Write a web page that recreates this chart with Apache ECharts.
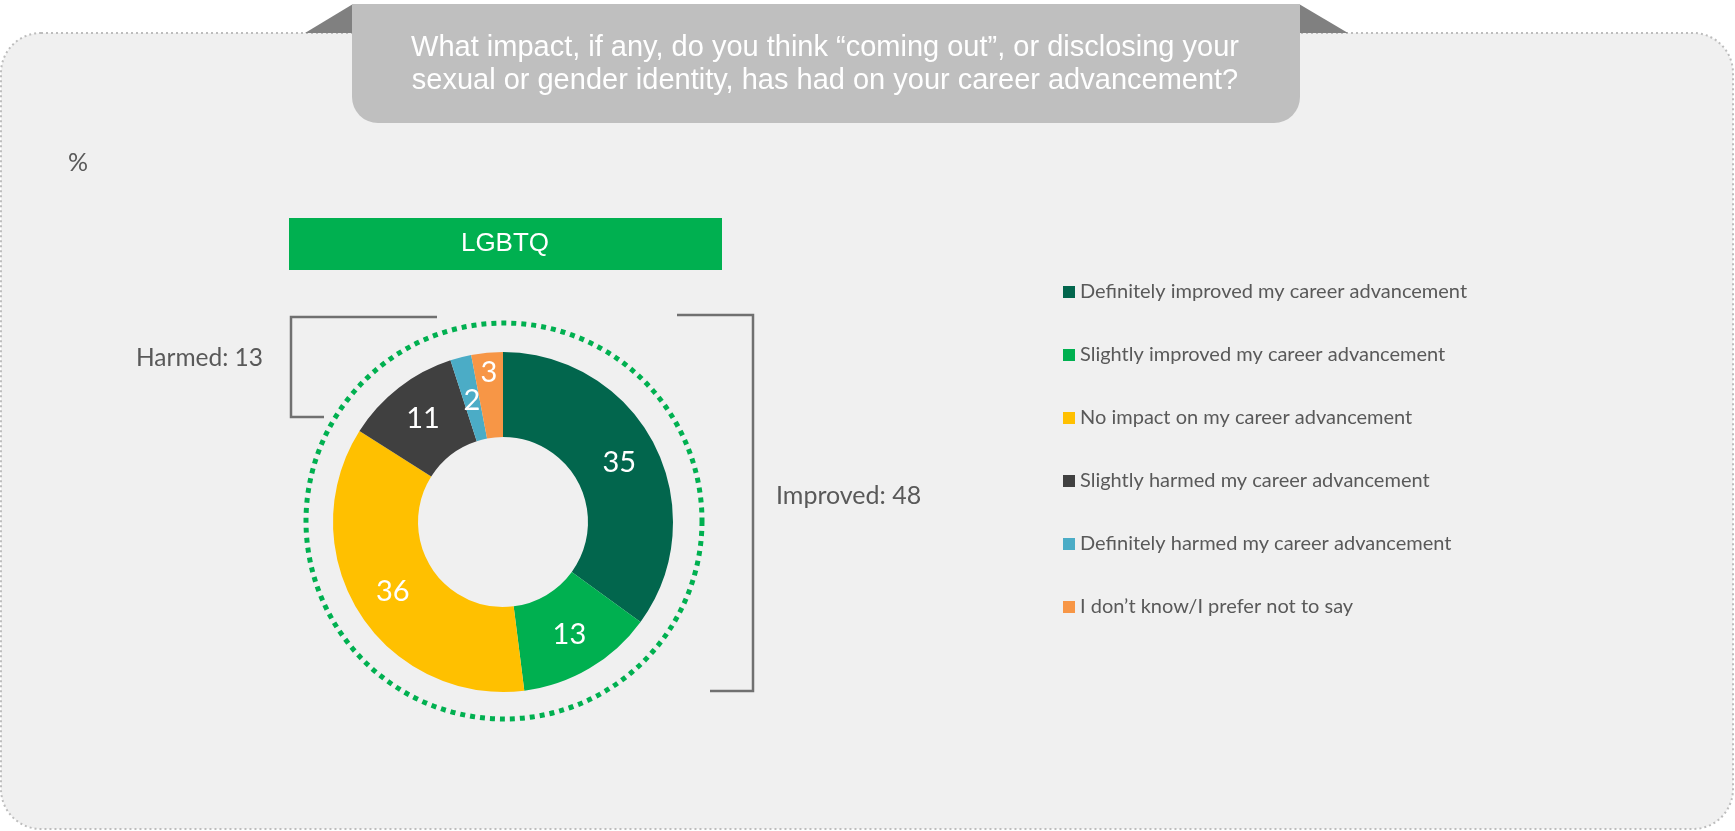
<!DOCTYPE html>
<html>
<head>
<meta charset="utf-8">
<title>Career impact of coming out</title>
<script src="https://cdn.jsdelivr.net/npm/echarts@6/dist/echarts.min.js"></script>
<style>
  html, body { margin: 0; padding: 0; background: #ffffff; }
  #chart { width: 1735px; height: 831px; }
</style>
</head>
<body>
<div id="chart"></div>
<script>
// Survey answers, in the order they run clockwise from 12 o'clock
const categories = [
  'Definitely improved my career advancement',
  'Slightly improved my career advancement',
  'No impact on my career advancement',
  'Slightly harmed my career advancement',
  'Definitely harmed my career advancement',
  'I don\u2019t know/I prefer not to say'
];
const values = [35, 13, 36, 11, 2, 3];
const sliceColors = ['#02664d', '#00b050', '#ffc000', '#404040', '#4bacc6', '#f79646'];

const questionLines = [
  'What impact, if any, do you think \u201ccoming out\u201d, or disclosing your',
  'sexual or gender identity, has had on your career advancement?'
];
const groupTitle = 'LGBTQ';
const unitLabel = '%';
const improvedIdx = [0, 1];
const harmedIdx = [3, 4];

const sumOf = idx => idx.reduce((s, i) => s + values[i], 0);

const CX = 503, CY = 522, R_IN = 85, R_OUT = 170;
// radial nudge (px) of each value label so the two thin slices do not collide
const labelNudge = [0, 0, 0, 0, -5, 20];
const GREY_TEXT = '#595959';
const BODY_FONT = 'Lato, "Open Sans", sans-serif';
const HEAD_FONT = '"Liberation Sans", Arial, sans-serif';

const total = values.reduce((a, b) => a + b, 0);
const midAngle = i => {
  const before = values.slice(0, i).reduce((a, b) => a + b, 0);
  return 2 * Math.PI * (before + values[i] / 2) / total;
};

const chart = echarts.init(document.getElementById('chart'), null, { renderer: 'canvas' });

const graphics = [
  // background panel with dotted outline
  { type: 'rect', z: 0, shape: { x: 1, y: 33, width: 1732, height: 796, r: 40 },
    style: { fill: '#f0f0f0', stroke: '#bdbdbd', lineWidth: 2, lineDash: [2, 3] } },
  // ribbon folds
  { type: 'polygon', z: 1, shape: { points: [[305, 33], [353, 4], [353, 33]] }, style: { fill: '#808080' } },
  { type: 'polygon', z: 1, shape: { points: [[1299, 4], [1348, 33], [1299, 33]] }, style: { fill: '#808080' } },
  // question banner
  { type: 'rect', z: 2, shape: { x: 352, y: 4, width: 948, height: 119, r: [0, 0, 26, 26] },
    style: { fill: '#bfbfbf' } },
  { type: 'text', z: 3, x: 825, y: 48,
    style: { text: questionLines[0], fill: '#ffffff', font: '29px ' + HEAD_FONT, align: 'center', verticalAlign: 'middle' } },
  { type: 'text', z: 3, x: 825, y: 81,
    style: { text: questionLines[1], fill: '#ffffff', font: '29px ' + HEAD_FONT, align: 'center', verticalAlign: 'middle' } },
  // unit
  { type: 'text', z: 3, x: 68, y: 163,
    style: { text: unitLabel, fill: GREY_TEXT, font: '25px ' + BODY_FONT, align: 'left', verticalAlign: 'middle' } },
  // group header
  { type: 'rect', z: 2, shape: { x: 289, y: 218, width: 433, height: 52 }, style: { fill: '#00b050' } },
  { type: 'text', z: 3, x: 505, y: 244,
    style: { text: groupTitle, fill: '#ffffff', font: '26px ' + HEAD_FONT, align: 'center', verticalAlign: 'middle' } },
  // dotted ring around the donut
  { type: 'circle', z: 2, shape: { cx: CX + 1, cy: CY - 1, r: 198 },
    style: { fill: 'none', stroke: '#00b050', lineWidth: 5, lineDash: [5, 5] } },
  // harmed bracket
  { type: 'polyline', z: 2, shape: { points: [[437, 317], [291, 317], [291, 417], [324, 417]] },
    style: { stroke: '#707070', lineWidth: 2.5, fill: null } },
  { type: 'text', z: 3, x: 263, y: 358,
    style: { text: 'Harmed: ' + sumOf(harmedIdx), fill: GREY_TEXT, font: '24.5px ' + BODY_FONT, align: 'right', verticalAlign: 'middle' } },
  // improved bracket
  { type: 'polyline', z: 2, shape: { points: [[677, 315], [753, 315], [753, 691], [710, 691]] },
    style: { stroke: '#707070', lineWidth: 2.5, fill: null } },
  { type: 'text', z: 3, x: 776, y: 496,
    style: { text: 'Improved: ' + sumOf(improvedIdx), fill: GREY_TEXT, font: '25px ' + BODY_FONT, align: 'left', verticalAlign: 'middle' } }
];

chart.setOption({
  animation: false,
  backgroundColor: '#ffffff',
  color: sliceColors,
  graphic: { elements: graphics },
  legend: {
    orient: 'vertical',
    left: 1063,
    top: 280,
    padding: 0,
    itemWidth: 12,
    itemHeight: 12,
    itemGap: 39,
    icon: 'rect',
    selectedMode: false,
    data: categories,
    textStyle: { color: GREY_TEXT, fontSize: 20, fontFamily: BODY_FONT, lineHeight: 24 }
  },
  series: [{
    type: 'pie',
    z: 5,
    center: [CX, CY],
    radius: [R_IN, R_OUT],
    startAngle: 90,
    clockwise: true,
    silent: true,
    label: {
      show: true,
      position: 'inside',
      formatter: '{c}',
      color: '#ffffff',
      fontSize: 29,
      fontFamily: BODY_FONT
    },
    labelLayout: p => {
      const a = midAngle(p.dataIndex);
      const s = labelNudge[p.dataIndex];
      return { dx: Math.sin(a) * s, dy: -Math.cos(a) * s };
    },
    labelLine: { show: false },
    itemStyle: { borderWidth: 0 },
    emphasis: { disabled: true },
    data: categories.map((name, i) => ({ name, value: values[i] }))
  }]
});
</script>
</body>
</html>
